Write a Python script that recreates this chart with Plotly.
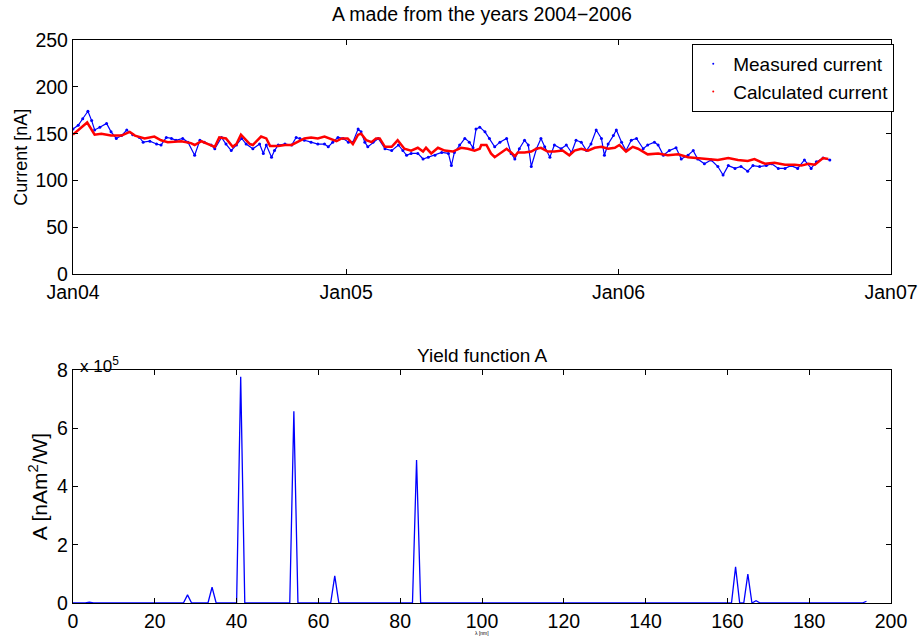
import pandas as pd
import plotly.graph_objects as go
from plotly.subplots import make_subplots

# ---------------- data ----------------
# Top panel: days since 2004-01-01
meas_day = [0, 7, 13, 20, 25, 29, 36, 45, 51, 58, 65, 72, 80, 89, 94, 103, 112, 118, 125, 132,
             138, 147, 154, 163, 170, 176, 185, 190, 199, 205, 212, 219, 226, 232, 241, 250, 255, 259, 266, 270,
             275, 284, 293, 299, 304, 310, 319, 328, 337, 342, 348, 355, 362, 369, 375, 382, 386, 391, 395, 402,
             409, 418, 427, 436, 442, 447, 453, 462, 469, 476, 485, 494, 503, 507, 511, 518, 525, 531, 536, 540,
             545, 552, 558, 565, 572, 581, 587, 592, 598, 605, 610, 614, 621, 627, 632, 639, 645, 654, 661, 668,
             674, 681, 688, 694, 701, 708, 712, 717, 724, 728, 735, 741, 748, 755, 764, 770, 779, 784, 791, 799,
             808, 815, 824, 831, 837, 846, 855, 864, 871, 878, 887, 895, 904, 911, 920, 929, 936, 945, 954, 962,
             971, 980, 989, 996, 1005, 1014]
meas_val = [155, 159, 166, 174, 164, 154, 157, 161, 152, 145, 148, 154, 149, 146, 141, 142, 139, 138, 146, 145,
            143, 145, 141, 127, 143, 141, 138, 134, 146, 139, 132, 138, 145, 139, 134, 139, 129, 138, 125, 132,
            138, 139, 138, 146, 145, 143, 141, 139, 139, 136, 141, 146, 145, 141, 141, 155, 152, 141, 136, 141,
            145, 134, 132, 138, 132, 127, 129, 129, 123, 125, 127, 130, 129, 116, 130, 138, 145, 141, 135, 155,
            157, 152, 145, 136, 141, 145, 129, 123, 134, 143, 138, 115, 134, 145, 136, 125, 138, 134, 138, 130,
            143, 141, 132, 139, 154, 145, 127, 139, 148, 154, 141, 132, 143, 145, 134, 138, 141, 138, 127, 132,
            135, 123, 127, 132, 123, 118, 122, 115, 106, 116, 113, 115, 110, 116, 115, 116, 118, 113, 113, 116,
            113, 122, 113, 120, 124, 122]

calc_day = [0, 19, 29, 38, 51, 65, 76, 83, 96, 109, 118, 127, 145, 158, 163, 172, 181, 190, 196, 205,
            214, 219, 225, 237, 241, 252, 259, 264, 275, 284, 293, 301, 310, 319, 328, 337, 344, 353, 360, 368,
            375, 382, 386, 393, 400, 406, 411, 418, 427, 435, 444, 453, 462, 469, 473, 480, 489, 498, 509, 520,
            529, 538, 545, 547, 554, 560, 565, 574, 581, 587, 592, 596, 605, 614, 621, 627, 636, 645, 656, 665,
            672, 681, 690, 699, 708, 717, 726, 732, 741, 750, 757, 770, 784, 797, 811, 824, 837, 851, 864, 878,
            891, 904, 913, 927, 940, 954, 967, 976, 985, 994, 1005, 1012]
calc_val = [149, 162, 149, 150, 148, 148, 152, 148, 145, 147, 143, 141, 142, 140, 138, 142, 139, 136, 146, 145,
            136, 139, 149, 139, 138, 147, 145, 137, 137, 138, 138, 141, 145, 146, 145, 147, 145, 142, 145, 145,
            139, 149, 150, 143, 141, 145, 145, 136, 136, 143, 134, 132, 135, 131, 135, 129, 135, 132, 131, 135,
            134, 132, 134, 138, 138, 129, 125, 130, 134, 130, 126, 130, 130, 131, 134, 135, 131, 131, 132, 127,
            132, 134, 132, 135, 136, 134, 135, 138, 131, 136, 134, 128, 129, 127, 128, 125, 124, 123, 122, 124,
            122, 121, 123, 118, 119, 117, 117, 116, 118, 117, 124, 123]

year_ticks = ["2004-01-01", "2005-01-01", "2006-01-01", "2007-01-01"]
year_labels = ["Jan04", "Jan05", "Jan06", "Jan07"]
current_ticks = [0, 50, 100, 150, 200, 250]

# Bottom panel: yield function
lam = [0, 3, 4, 5, 27, 28, 29, 33, 34, 35, 40, 41, 42, 53, 54, 55, 63, 64, 65, 83, 84, 85,
       161, 162, 163, 164, 165, 166, 167, 168, 193, 194]
yield_A = [0, 0, 3000, 0, 0, 28000, 0, 0, 54000, 0, 0, 777000, 0, 0, 658000, 0, 0, 93000, 0, 0, 491000, 0,
           0, 124000, 0, 0, 99000, 0, 8000, 0, 0, 6000]
lam_ticks = list(range(0, 201, 20))
A_ticks = [0, 200000, 400000, 600000, 800000]
A_tick_labels = ["0", "2", "4", "6", "8"]

# ---------------- figure ----------------
base = pd.Timestamp("2004-01-01")
meas_x = base + pd.to_timedelta(meas_day, unit="D")
calc_x = base + pd.to_timedelta(calc_day, unit="D")

FONT = "Liberation Sans, Arial, Helvetica, sans-serif"
BLUE = "rgb(0,0,255)"
RED = "rgb(255,0,0)"

fig = make_subplots(rows=2, cols=1)

fig.add_trace(go.Scatter(x=meas_x, y=meas_val, mode="lines+markers",
                         line=dict(color=BLUE, width=1.2), marker=dict(color=BLUE, size=3),
                         showlegend=False, hoverinfo="skip"), row=1, col=1)
fig.add_trace(go.Scatter(x=calc_x, y=calc_val, mode="lines",
                         line=dict(color=RED, width=2.5),
                         showlegend=False, hoverinfo="skip"), row=1, col=1)
# legend entries (dot markers as in the original)
fig.add_trace(go.Scatter(x=[None], y=[None], mode="markers", name="Measured current",
                         marker=dict(color=BLUE, size=2)), row=1, col=1)
fig.add_trace(go.Scatter(x=[None], y=[None], mode="markers", name="Calculated current",
                         marker=dict(color=RED, size=2)), row=1, col=1)

fig.add_trace(go.Scatter(x=lam, y=yield_A, mode="lines", line=dict(color=BLUE, width=1.3),
                         showlegend=False, hoverinfo="skip"), row=2, col=1)

axis_common = dict(showline=True, linecolor="black", linewidth=1.3, mirror="ticks",
                   ticks="inside", ticklen=5, tickcolor="black", tickwidth=1,
                   showgrid=False, zeroline=False, automargin=False,
                   tickfont=dict(family=FONT, size=19.5, color="black"))

fig.update_xaxes(**axis_common, type="date", range=["2004-01-01", "2007-01-01"],
                 tickvals=year_ticks, ticktext=year_labels, row=1, col=1)
fig.update_yaxes(**axis_common, range=[0, 250], tickvals=current_ticks,
                 title=dict(text="Current [nA]", font=dict(family=FONT, size=18, color="black"), standoff=3),
                 row=1, col=1)
fig.update_xaxes(**axis_common, range=[0, 200], tickvals=lam_ticks, row=2, col=1)
fig.update_yaxes(**axis_common, range=[0, 800000], tickvals=A_ticks, ticktext=A_tick_labels,
                 title=dict(text="A [nAm<sup>2</sup>/W]", font=dict(family=FONT, size=21, color="black"),
                            standoff=3),
                 row=2, col=1)

fig.update_layout(
    width=920, height=637,
    margin=dict(l=73, r=29, t=40, b=34),
    paper_bgcolor="white", plot_bgcolor="white",
    font=dict(family=FONT, color="black"),
    xaxis=dict(domain=[0, 1]),
    yaxis=dict(domain=[0.5838, 1.0]),
    xaxis2=dict(domain=[0, 1]),
    yaxis2=dict(domain=[0.0, 0.4139]),
    legend=dict(x=0.757, y=0.993, xanchor="left", yanchor="top",
                bgcolor="white", bordercolor="black", borderwidth=1,
                font=dict(family=FONT, size=19, color="black"),
                tracegroupgap=0, itemwidth=30),
    annotations=[
        dict(text="A made from the years 2004\u22122006", xref="paper", yref="paper",
             x=0.5, y=1.046, xanchor="center", yanchor="middle", showarrow=False,
             font=dict(family=FONT, size=19.5, color="black")),
        dict(text="Yield function A", xref="paper", yref="paper",
             x=0.5, y=0.44, xanchor="center", yanchor="middle", showarrow=False,
             font=dict(family=FONT, size=19, color="black")),
        dict(text="x 10<sup>5</sup>", xref="paper", yref="paper",
             x=0.006, y=0.422, xanchor="left", yanchor="middle", showarrow=False,
             font=dict(family=FONT, size=17, color="black")),
        dict(text="\u03bb [nm]", xref="paper", yref="paper",
             x=0.5, y=-0.054, xanchor="center", yanchor="middle", showarrow=False,
             font=dict(family=FONT, size=5, color="black")),
    ],
)

# remove the browser's default 8px page margin so the figure fills the window
fig.write_html("out.html", config={"displayModeBar": False},
               post_script="document.body.style.margin='0';")
